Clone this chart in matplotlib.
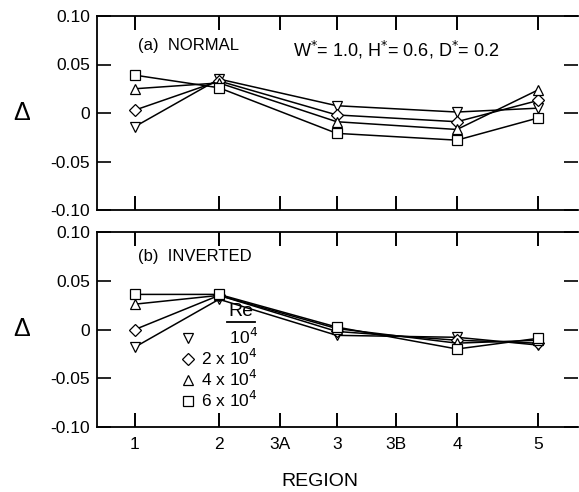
import matplotlib
matplotlib.use("Agg")
import matplotlib.pyplot as plt

regions = ["1", "2", "3A", "3", "3B", "4", "5"]
region_pos = [1, 2, 2.73, 3.4, 4.1, 4.83, 5.8]
data_regions = ["1", "2", "3", "4", "5"]

re_labels = ["      10$^4$", "2 x 10$^4$", "4 x 10$^4$", "6 x 10$^4$"]
markers = ["v", "D", "^", "s"]

normal = {
    "1e4": [-0.014, 0.035, 0.0075, 0.001, 0.005],
    "2e4": [0.003, 0.033, -0.002, -0.009, 0.013],
    "4e4": [0.025, 0.031, -0.009, -0.017, 0.024],
    "6e4": [0.039, 0.026, -0.021, -0.028, -0.005],
}
inverted = {
    "1e4": [-0.018, 0.031, -0.006, -0.008, -0.016],
    "2e4": [0.000, 0.035, -0.002, -0.011, -0.014],
    "4e4": [0.026, 0.035, 0.001, -0.014, -0.011],
    "6e4": [0.036, 0.036, 0.0025, -0.020, -0.009],
}
yticks = [-0.10, -0.05, 0, 0.05, 0.10]
ytick_labels = ["-0.10", "-0.05", "0", "0.05", "0.10"]

plt.rcParams["font.family"] = ["Liberation Sans", "DejaVu Sans"]

fig = plt.figure(figsize=(5.79, 4.92), dpi=100)
W, H = 579, 492
def rect(l, t, r, b):
    return [l / W, 1 - b / H, (r - l) / W, (b - t) / H]

ax1 = fig.add_axes(rect(97, 16, 578, 210))
ax2 = fig.add_axes(rect(97, 232, 578, 427))

xmap = {r: p for r, p in zip(regions, region_pos)}
xs = [xmap[r] for r in data_regions]
msize = {"v": 7, "D": 5.8, "^": 7, "s": 7}

for ax, data in [(ax1, normal), (ax2, inverted)]:
    for (key, vals), m, lab in zip(data.items(), markers, re_labels):
        ax.plot(xs, vals, color="black", lw=1.1, marker=m, ms=msize[m],
                mfc="white", mec="black", mew=0.9, label=lab)
    ax.set_xlim(0.548, 6.27)
    ax.set_ylim(-0.10, 0.10)
    ax.set_xticks(region_pos)
    ax.set_yticks(yticks)
    ax.set_yticklabels(ytick_labels, fontsize=12.5)
    ax.tick_params(axis="x", direction="in", length=10, width=1.4, top=True, bottom=True)
    ax.tick_params(axis="y", direction="in", length=10, width=1.2, left=True, right=True, pad=5)
    ax.spines["right"].set_visible(False)
    for s in ["left", "top", "bottom"]:
        ax.spines[s].set_linewidth(1.3)
    ax.set_ylabel("Δ", fontsize=18, rotation=0, va="center")
    ax.yaxis.set_label_coords(-0.157, 0.5)

ax1.set_xticklabels([])
ax2.set_xticklabels(regions, fontsize=12.5)
ax2.tick_params(axis="x", pad=7)
ax2.set_xlabel("REGION", fontsize=14)
ax2.xaxis.set_label_coords(0.464, -0.235)

ax1.text(1.03, 0.070, "(a)  NORMAL", fontsize=12, va="center")
ax1.text(2.88, 0.065, "W$^{*}$= 1.0, H$^{*}$= 0.6, D$^{*}$= 0.2", fontsize=13, va="center")
ax2.text(1.03, 0.0745, "(b)  INVERTED", fontsize=12, va="center")

leg = ax2.legend(loc="upper left", bbox_to_anchor=(0.153, 0.565), frameon=False,
                 fontsize=12.5, handlelength=0.8,
                 handletextpad=0.35, labelspacing=0.05, borderpad=0.1)
for h in leg.legend_handles:
    h.set_linestyle("none")

# legend header "Re" underlined
ax2.text(0.30, 0.548, "Re", transform=ax2.transAxes, fontsize=14,
         ha="center", va="bottom")
ax2.plot([0.271, 0.328], [0.537, 0.537], transform=ax2.transAxes, color="black", lw=1.3)

fig.savefig("out.png", dpi=100)
